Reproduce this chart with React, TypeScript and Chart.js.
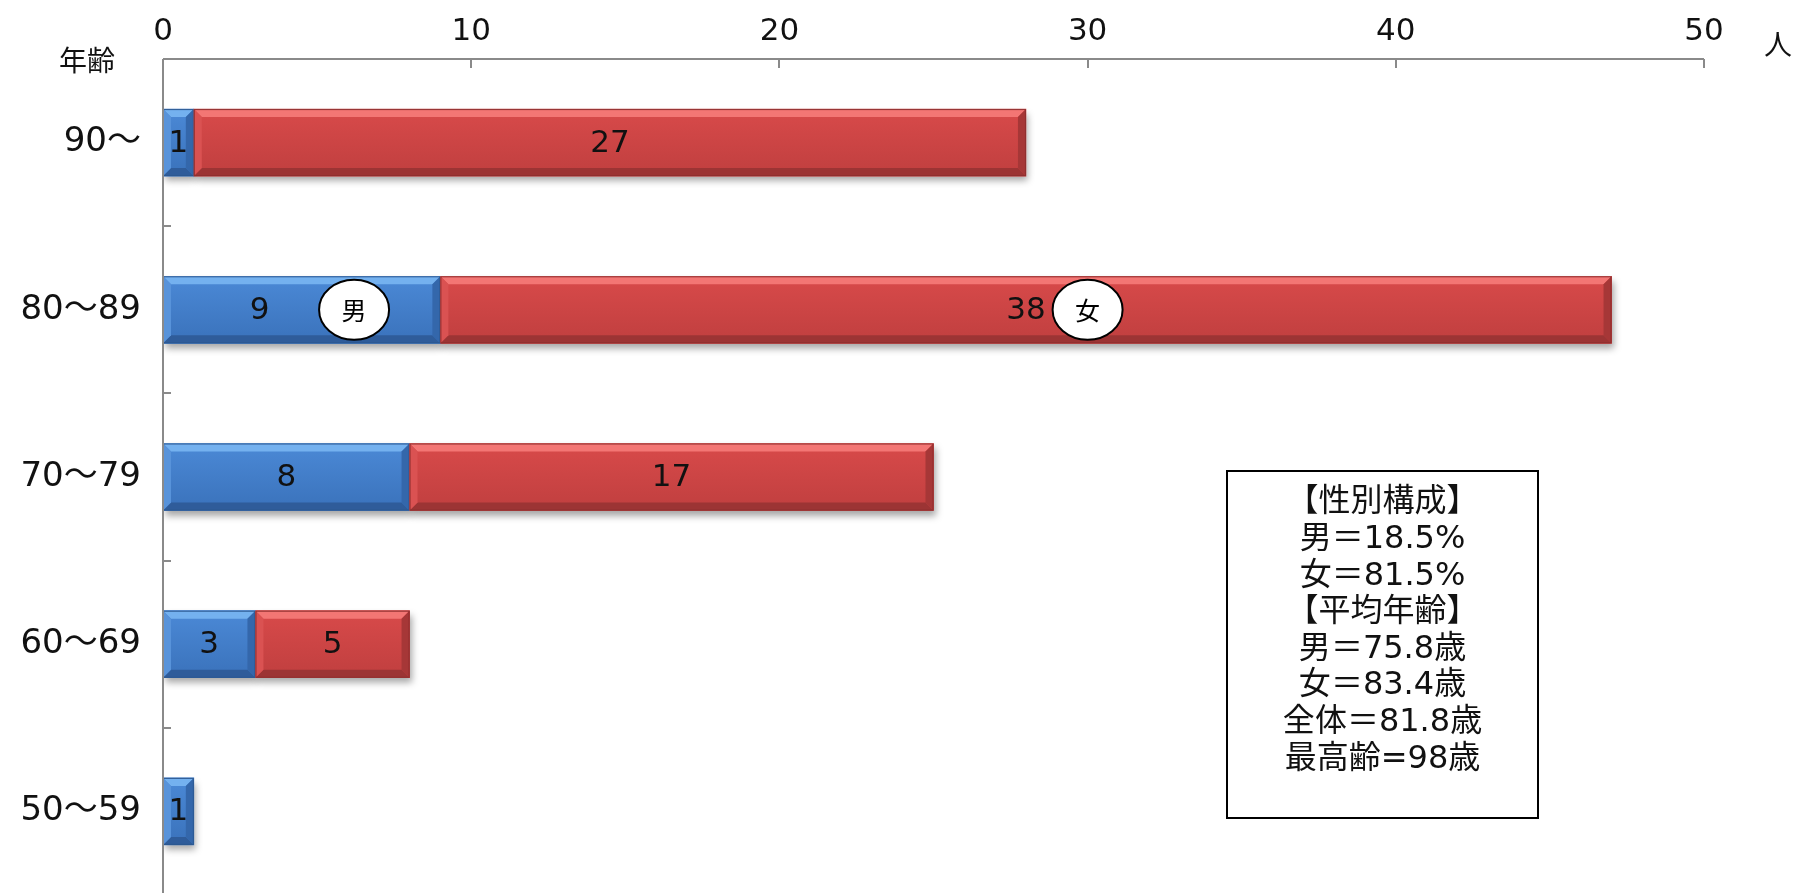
import React, { useEffect, useRef } from 'react';
import { Chart, registerables } from 'chart.js';

Chart.register(...registerables);

// ---- data ----
const categories = ['90〜', '80〜89', '70〜79', '60〜69', '50〜59'];
const maleValues: (number | null)[] = [1, 9, 8, 3, 1];
const femaleValues: (number | null)[] = [27, 38, 17, 5, null];
const xTickValues = [0, 10, 20, 30, 40, 50];
const xUnitLabel = '人';
const yAxisTitle = '年齢';
const summaryLines = [
  '【性別構成】',
  '男＝18.5%',
  '女＝81.5%',
  '【平均年齢】',
  '男＝75.8歳',
  '女＝83.4歳',
  '全体＝81.8歳',
  '最高齢=98歳',
];
const badgeTexts = ['男', '女'];
const badgeCategory = ['80〜89', '80〜89'];
const badgeValues = [6.2, 30.0];

const FONT = "'DejaVu Sans', 'Noto Sans CJK JP', sans-serif";
const CJK = "'Noto Sans CJK JP', sans-serif";

const palettes = [
  { main0: '#4b89d6', main1: '#3a72bb', top: '#74b1ef', bottom: '#2f5c9a', left: '#5893da', right: '#3467ab', border: '#2c5891' },
  { main0: '#d84a4a', main1: '#c03f3f', top: '#f37674', bottom: '#9c3434', left: '#da5252', right: '#a63737', border: '#8f2f2f' },
];

function drawBar(ctx: CanvasRenderingContext2D, x0: number, y0: number, x1: number, y1: number, p: any) {
  const w = x1 - x0;
  const h = y1 - y0;
  let b = 8;
  if (w < 2 * b) b = w / 2;
  const g = ctx.createLinearGradient(0, y0, 0, y1);
  g.addColorStop(0, p.main0);
  g.addColorStop(1, p.main1);
  ctx.save();
  ctx.fillStyle = g;
  ctx.fillRect(x0, y0, w, h);
  const poly = (pts: number[][], color: string) => {
    ctx.beginPath();
    ctx.moveTo(pts[0][0], pts[0][1]);
    for (let i = 1; i < pts.length; i++) ctx.lineTo(pts[i][0], pts[i][1]);
    ctx.closePath();
    ctx.fillStyle = color;
    ctx.fill();
  };
  poly([[x0, y0], [x1, y0], [x1 - b, y0 + b], [x0 + b, y0 + b]], p.top);
  poly([[x0, y1], [x1, y1], [x1 - b, y1 - b], [x0 + b, y1 - b]], p.bottom);
  poly([[x0, y0], [x0 + b, y0 + b], [x0 + b, y1 - b], [x0, y1]], p.left);
  poly([[x1, y0], [x1 - b, y0 + b], [x1 - b, y1 - b], [x1, y1]], p.right);
  ctx.strokeStyle = p.border;
  ctx.lineWidth = 1;
  ctx.strokeRect(x0 + 0.5, y0 + 0.5, w - 1, h - 1);
  ctx.restore();
}

const decorPlugin = {
  id: 'decor',
  beforeDatasetsDraw(chart: any) {
    const ctx = chart.ctx;
    ctx.save();
    ctx.shadowColor = 'rgba(0,0,0,0.35)';
    ctx.shadowBlur = 7;
    ctx.shadowOffsetX = 2;
    ctx.shadowOffsetY = 5;
  },
  afterDatasetsDraw(chart: any) {
    const ctx = chart.ctx;
    ctx.restore();
    const xs = chart.scales.x;
    const ys = chart.scales.y;
    const area = chart.chartArea;

    // bars with bevel
    chart.data.datasets.forEach((ds: any, di: number) => {
      const meta = chart.getDatasetMeta(di);
      meta.data.forEach((el: any, i: number) => {
        const v = ds.data[i];
        if (v == null || v === 0) return;
        const { x, y, base, height } = el.getProps(['x', 'y', 'base', 'height'], true);
        drawBar(ctx, Math.min(x, base), y - height / 2, Math.max(x, base), y + height / 2, palettes[di]);
      });
    });

    // value labels
    ctx.save();
    ctx.font = `31px ${FONT}`;
    ctx.fillStyle = '#111';
    ctx.textAlign = 'center';
    ctx.textBaseline = 'middle';
    chart.data.datasets.forEach((ds: any, di: number) => {
      const meta = chart.getDatasetMeta(di);
      meta.data.forEach((el: any, i: number) => {
        const v = ds.data[i];
        if (v == null || v === 0) return;
        const { x, y, base } = el.getProps(['x', 'y', 'base'], true);
        let cx = (x + base) / 2;
        if (di === 0 && i === 1) cx -= 42; // label nudged left of the 男 badge
        ctx.fillText(String(v), cx, y + 1);
      });
    });
    ctx.restore();

    // category labels
    ctx.save();
    ctx.font = `34px ${FONT}`;
    ctx.fillStyle = '#111';
    ctx.textAlign = 'right';
    ctx.textBaseline = 'middle';
    categories.forEach((c, i) => {
      ctx.fillText(c, area.left - 22, ys.getPixelForValue(i));
    });
    ctx.restore();

    // axis lines
    ctx.save();
    ctx.strokeStyle = '#8a8a8a';
    ctx.lineWidth = 2;
    ctx.beginPath();
    ctx.moveTo(area.left, area.top);
    ctx.lineTo(area.right, area.top);
    ctx.moveTo(area.left, area.top);
    ctx.lineTo(area.left, chart.height);
    ctx.stroke();
    ctx.beginPath();
    xTickValues.forEach((v) => {
      const px = Math.round(xs.getPixelForValue(v));
      ctx.moveTo(px, area.top);
      ctx.lineTo(px, area.top + 9);
    });
    for (let i = 0; i < categories.length - 1; i++) {
      const py = (ys.getPixelForValue(i) + ys.getPixelForValue(i + 1)) / 2;
      ctx.moveTo(area.left, Math.round(py));
      ctx.lineTo(area.left + 8, Math.round(py));
    }
    ctx.stroke();
    ctx.restore();

    // axis titles
    ctx.save();
    ctx.fillStyle = '#111';
    ctx.textAlign = 'center';
    ctx.textBaseline = 'middle';
    ctx.font = `28px ${CJK}`;
    ctx.fillText(yAxisTitle, area.left - 76, area.top + 1);
    ctx.fillText(xUnitLabel, area.right + 74, area.top - 15);
    ctx.restore();

    // badges
    ctx.save();
    badgeTexts.forEach((t, k) => {
      const ci = categories.indexOf(badgeCategory[k]);
      const bx = xs.getPixelForValue(badgeValues[k]);
      const by = ys.getPixelForValue(ci);
      ctx.beginPath();
      ctx.ellipse(bx, by, 35, 30, 0, 0, Math.PI * 2);
      ctx.fillStyle = '#fff';
      ctx.fill();
      ctx.lineWidth = 2;
      ctx.strokeStyle = '#000';
      ctx.stroke();
      ctx.fillStyle = '#000';
      ctx.font = `25px ${CJK}`;
      ctx.textAlign = 'center';
      ctx.textBaseline = 'middle';
      ctx.fillText(t, bx, by + 1);
    });
    ctx.restore();

    // summary box
    ctx.save();
    const bx0 = 1227, by0 = 471, bx1 = 1538, by1 = 818;
    ctx.fillStyle = '#fff';
    ctx.fillRect(bx0, by0, bx1 - bx0, by1 - by0);
    ctx.strokeStyle = '#000';
    ctx.lineWidth = 2;
    ctx.strokeRect(bx0, by0, bx1 - bx0, by1 - by0);
    ctx.fillStyle = '#111';
    ctx.font = `32px ${FONT}`;
    ctx.textAlign = 'center';
    ctx.textBaseline = 'middle';
    summaryLines.forEach((line, i) => {
      ctx.fillText(line, (bx0 + bx1) / 2, 503 + i * 36.6);
    });
    ctx.restore();
  },
};

export default function App() {
  const ref = useRef<HTMLCanvasElement | null>(null);
  useEffect(() => {
    document.body.style.margin = '0';
    document.body.style.overflow = 'hidden';
    document.documentElement.style.overflow = 'hidden';
    const canvas = ref.current!;
    const chart = new Chart(canvas, {
      type: 'bar',
      data: {
        labels: categories,
        datasets: [
          { label: '男', data: maleValues, backgroundColor: '#3f7ac6', borderWidth: 0, barThickness: 67 },
          { label: '女', data: femaleValues, backgroundColor: '#c94444', borderWidth: 0, barThickness: 67 },
        ],
      },
      options: {
        indexAxis: 'y',
        responsive: false,
        animation: false,
        layout: { padding: { top: 0, left: 0, right: 92, bottom: 5 } },
        plugins: { legend: { display: false }, tooltip: { enabled: false } },
        scales: {
          x: {
            type: 'linear',
            position: 'top',
            stacked: true,
            min: 0,
            max: 50,
            afterBuildTicks: (s: any) => {
              s.ticks = xTickValues.map((v) => ({ value: v }));
            },
            afterFit: (s: any) => {
              s.height = 59;
            },
            ticks: { font: { family: FONT, size: 31 }, color: '#111', padding: 8, maxRotation: 0 },
            grid: { display: false, drawTicks: false },
            border: { display: false },
          },
          y: {
            type: 'category',
            stacked: true,
            afterFit: (s: any) => {
              s.width = 163;
            },
            ticks: { display: false },
            grid: { display: false, drawTicks: false },
            border: { display: false },
          },
        },
      },
      plugins: [decorPlugin],
    });
    return () => chart.destroy();
  }, []);
  return (
    <div style={{ width: 1796, height: 900 }}>
      <canvas ref={ref} width={1796} height={900} style={{ display: 'block' }} />
    </div>
  );
}
